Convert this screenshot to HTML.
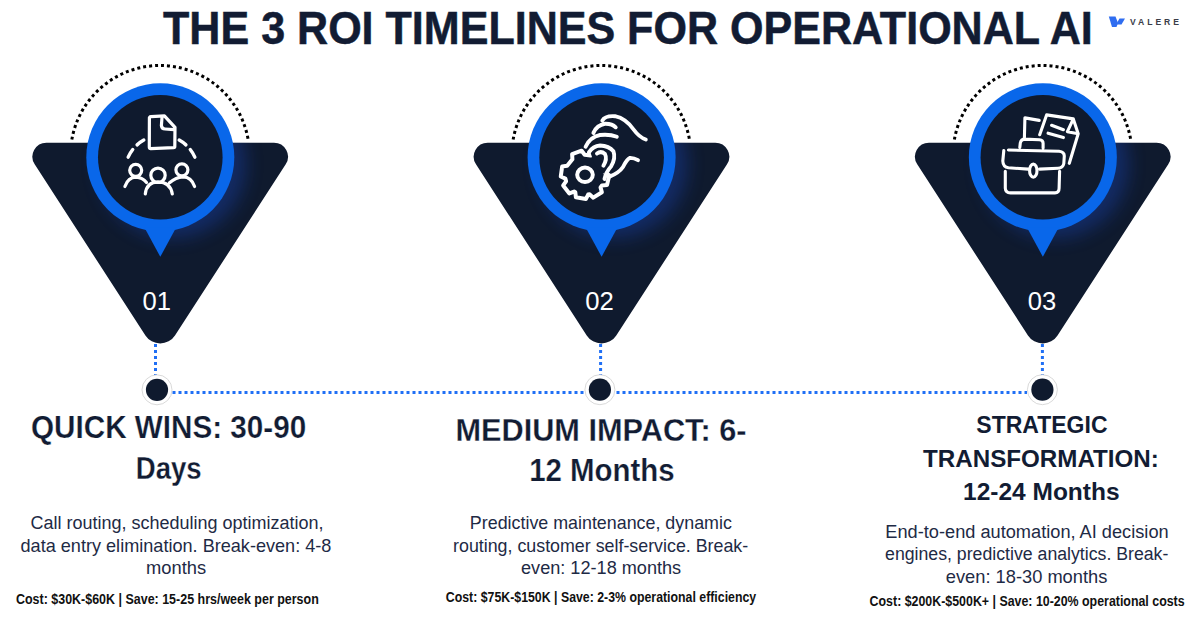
<!DOCTYPE html>
<html><head><meta charset="utf-8"><style>html,body{margin:0;padding:0;background:#fff;width:1200px;height:628px;overflow:hidden}svg{display:block}text{font-family:"Liberation Sans",sans-serif}</style></head>
<body><svg width="1200" height="628" viewBox="0 0 1200 628" font-family="Liberation Sans, sans-serif">
<defs><filter id="bl" x="-50%" y="-50%" width="200%" height="200%"><feGaussianBlur stdDeviation="9"/></filter></defs>
<rect width="1200" height="628" fill="#fff"/>
<path d="M71.83,139.6 A89.5,89.5 0 0 1 248.17,139.6" fill="none" stroke="#000" stroke-width="3" stroke-dasharray="3 3"/>
<path d="M46.43,142.70 L273.97,142.70 A14,14 0 0 1 285.72,164.31 L174.98,335.46 A17.6,17.6 0 0 1 145.42,335.46 L34.68,164.31 A14,14 0 0 1 46.43,142.70 Z" fill="#0f1a2e"/>
<clipPath id="tc0"><path d="M46.43,142.70 L273.97,142.70 A14,14 0 0 1 285.72,164.31 L174.98,335.46 A17.6,17.6 0 0 1 145.42,335.46 L34.68,164.31 A14,14 0 0 1 46.43,142.70 Z"/></clipPath>
<g clip-path="url(#tc0)"><circle cx="172.29999999999998" cy="164.3" r="74" fill="#1e50d8" opacity="0.32" filter="url(#bl)"/></g>
<circle cx="160.29999999999998" cy="157.3" r="74" fill="#0967ea"/><path d="M144.29999999999998,227.3 L160.29999999999998,256.8 L176.29999999999998,227.3 Z" fill="#0967ea"/>
<circle cx="160.29999999999998" cy="157.3" r="62.3" fill="#0f1a2e"/><path d="M513.13,139.6 A89.5,89.5 0 0 1 689.47,139.6" fill="none" stroke="#000" stroke-width="3" stroke-dasharray="3 3"/>
<path d="M487.73,142.70 L715.27,142.70 A14,14 0 0 1 727.02,164.31 L616.28,335.46 A17.6,17.6 0 0 1 586.72,335.46 L475.98,164.31 A14,14 0 0 1 487.73,142.70 Z" fill="#0f1a2e"/>
<clipPath id="tc1"><path d="M487.73,142.70 L715.27,142.70 A14,14 0 0 1 727.02,164.31 L616.28,335.46 A17.6,17.6 0 0 1 586.72,335.46 L475.98,164.31 A14,14 0 0 1 487.73,142.70 Z"/></clipPath>
<g clip-path="url(#tc1)"><circle cx="613.6" cy="164.3" r="74" fill="#1e50d8" opacity="0.32" filter="url(#bl)"/></g>
<circle cx="601.6" cy="157.3" r="74" fill="#0967ea"/><path d="M585.6,227.3 L601.6,256.8 L617.6,227.3 Z" fill="#0967ea"/>
<circle cx="601.6" cy="157.3" r="62.3" fill="#0f1a2e"/><path d="M954.38,139.6 A89.5,89.5 0 0 1 1130.72,139.6" fill="none" stroke="#000" stroke-width="3" stroke-dasharray="3 3"/>
<path d="M928.98,142.70 L1156.52,142.70 A14,14 0 0 1 1168.27,164.31 L1057.53,335.46 A17.6,17.6 0 0 1 1027.97,335.46 L917.23,164.31 A14,14 0 0 1 928.98,142.70 Z" fill="#0f1a2e"/>
<clipPath id="tc2"><path d="M928.98,142.70 L1156.52,142.70 A14,14 0 0 1 1168.27,164.31 L1057.53,335.46 A17.6,17.6 0 0 1 1027.97,335.46 L917.23,164.31 A14,14 0 0 1 928.98,142.70 Z"/></clipPath>
<g clip-path="url(#tc2)"><circle cx="1054.85" cy="164.3" r="74" fill="#1e50d8" opacity="0.32" filter="url(#bl)"/></g>
<circle cx="1042.85" cy="157.3" r="74" fill="#0967ea"/><path d="M1026.85,227.3 L1042.85,256.8 L1058.85,227.3 Z" fill="#0967ea"/>
<circle cx="1042.85" cy="157.3" r="62.3" fill="#0f1a2e"/>
<path d="M149.4,118.5 Q149,116.8 151,116.7 L164.4,115.8 L175,127.3 L174.8,146.5 Q174.8,147.6 173.5,147.7 L150.8,148.7 Q149.3,148.8 149.3,147.3 Z M162,117.5 L161.4,125.5 Q161.8,129 165,129 L174,129.6" fill="none" stroke="#fff" stroke-linecap="round" stroke-linejoin="round" stroke-width="3.2"/>
<path d="M128.16,157.15 A36.5,36.5 0 0 1 132.74,149.53 M137.08,144.88 A36.5,36.5 0 0 1 143.80,140.08 M179.20,140.08 A36.5,36.5 0 0 1 185.92,144.88 M190.26,149.53 A36.5,36.5 0 0 1 194.84,157.15" fill="none" stroke="#fff" stroke-linecap="round" stroke-linejoin="round" stroke-width="3.4"/>
<path d="M129.7,170.3 a6,6 0 1 0 12,0 a6,6 0 1 0 -12,0 M175.9,169.8 a6,6 0 1 0 12,0 a6,6 0 1 0 -12,0 M150.8,175.3 a7.2,7.2 0 1 0 14.4,0 a7.2,7.2 0 1 0 -14.4,0 M145.3,194 Q146.5,182 158,181.8 Q170.5,182 172.3,194 M124.9,186.5 Q128,177.5 136,177.2 Q142.5,177.5 146.5,182.5 M194.6,186.5 Q191.5,177 183,176.8 Q176,177.2 169.5,182.8" fill="none" stroke="#fff" stroke-linecap="round" stroke-linejoin="round" stroke-width="3.2"/>
<path d="M604.89,172.71 L609.30,175.22 L607.02,185.07 L601.96,185.40 L600.54,187.39 L601.88,192.28 L593.31,197.63 L589.50,194.29 L588.13,194.55 L585.85,199.09 L575.90,197.33 L575.30,192.29 L574.11,191.57 L569.38,193.41 L563.16,185.45 L566.09,181.31 L565.37,178.62 L560.76,176.50 L562.17,166.49 L567.18,165.72 L572.41,159.26 L572.12,154.19 L581.62,150.74 L584.65,154.80 L590.51,155.57 L594.49,152.43 L602.77,158.23 L601.18,163.04 Z" fill="none" stroke="#fff" stroke-linecap="round" stroke-linejoin="round" stroke-width="4"/>
<ellipse cx="585" cy="174.8" rx="7.8" ry="7.2" fill="none" stroke="#fff" stroke-linecap="round" stroke-linejoin="round" stroke-width="4"/>
<path d="M590,151 Q597,143 606,145 Q615,150 614.5,159 Q611,168 605,174 Q598,172 594,163 Z" fill="#0f1a2e"/>
<path d="M602.3,120.6 Q605,115.5 615,116.2 Q626,118.5 634,130 Q639,137 645.8,139.5 M593.4,132.9 Q597,125 605,123.8 Q612,123.6 615.7,127.3 M585.6,146.8 Q590,137 600,135 Q610,134 616.8,136.8 M588.9,152.4 Q593,146 600,145.5 Q609,146 613.4,151.2 Q616,158 611,166.5 Q606,172 604.5,179 M597,153.5 Q601,150.5 605,154 Q607.5,159 603.4,165.7 M609,176.9 Q619,173 623,167 Q627,159 630,157.9 Q634,157.8 638,160.2" fill="none" stroke="#fff" stroke-linecap="round" stroke-linejoin="round" stroke-width="3.9"/>
<path d="M1024.4,137.6 L1024.9,117.9 L1039.2,120.4 M1039.7,134.7 L1046.6,114.9 L1073.3,118.9 L1078.2,133.7 L1069.3,163.3 M1073.3,118.9 L1067.4,131.7 L1078.2,133.7 M1051.6,125.3 L1063.4,129.7 M1048.1,133.2 L1063.4,137.6 M1008.4,150 L1059,151.3 Q1064.3,151.8 1064.3,156 L1063.8,163.5 Q1063,168 1058,168.3 L1039.5,169.1 M1028.1,169.1 L1008.5,167.8 Q1003,167 1002.8,161 L1003.8,150.5 M1005.3,171.2 L1005.3,188.3 Q1005.5,192.9 1010.5,192.9 L1055,192.9 Q1059.1,192.9 1059.1,188.3 L1059.6,171.2 M1019.8,147.4 L1020.3,143 Q1021,139.1 1025,139.1 L1039.5,139.7 Q1043.1,140 1043.1,143.3 L1043.1,148" fill="none" stroke="#fff" stroke-linecap="round" stroke-linejoin="round" stroke-width="3.1"/>
<ellipse cx="1033.3" cy="170.7" rx="3.7" ry="6.6" fill="#0f1a2e" stroke="#fff" stroke-width="3.1"/>
<line x1="155.5" y1="344" x2="155.5" y2="375" stroke="#1f6ff5" stroke-width="3" stroke-dasharray="3 3"/>
<line x1="600.6" y1="344" x2="600.6" y2="375" stroke="#1f6ff5" stroke-width="3" stroke-dasharray="3 3"/>
<line x1="1042.4" y1="344" x2="1042.4" y2="375" stroke="#1f6ff5" stroke-width="3" stroke-dasharray="3 3"/>
<line x1="172.5" y1="392.5" x2="1027" y2="392.5" stroke="#1f6ff5" stroke-width="3" stroke-dasharray="3 3"/>
<circle cx="157" cy="389.8" r="15" fill="#fff" stroke="#cfcfcf" stroke-width="0.8"/>
<circle cx="157" cy="389.8" r="11.1" fill="#0f1a2e"/>
<circle cx="599.9" cy="389.7" r="15" fill="#fff" stroke="#cfcfcf" stroke-width="0.8"/>
<circle cx="599.9" cy="389.7" r="11.1" fill="#0f1a2e"/>
<circle cx="1042.4" cy="389.7" r="15" fill="#fff" stroke="#cfcfcf" stroke-width="0.8"/>
<circle cx="1042.4" cy="389.7" r="11.1" fill="#0f1a2e"/>
<path d="M1108.8,16.5 L1115.5,16.5 L1118,23 L1116.5,27 L1112,27 Z" fill="#2f6df0"/><path d="M1117.5,22 L1119.5,18.5 L1125,18.5 L1121.5,24.5 L1116.8,24.5 Z" fill="#2f6df0"/><text x="1130" y="25" font-size="8.6" font-weight="700" fill="#3a3d48" letter-spacing="2.95">VALERE</text>
<text transform="translate(163.06,43.60) scale(0.9361,1)" x="0" y="0" font-size="46" font-weight="700" fill="#121c33" stroke="#121c33" stroke-width="0.5">THE 3 ROI TIMELINES FOR OPERATIONAL AI</text>
<text transform="translate(31.06,437.50) scale(0.9414,1)" x="0" y="0" font-size="31.5" font-weight="700" fill="#121c33" stroke="#fff" stroke-width="0.25">QUICK WINS: 30-90</text>
<text transform="translate(135.75,478.75) scale(0.8750,1)" x="0" y="0" font-size="31.5" font-weight="700" fill="#121c33" stroke="#fff" stroke-width="0.25">Days</text>
<text transform="translate(455.45,441.10) scale(0.9750,1)" x="0" y="0" font-size="31.5" font-weight="700" fill="#121c33" stroke="#fff" stroke-width="0.25">MEDIUM IMPACT: 6-</text>
<text transform="translate(529.13,481.20) scale(0.9346,1)" x="0" y="0" font-size="31.5" font-weight="700" fill="#121c33" stroke="#fff" stroke-width="0.25">12 Months</text>
<text transform="translate(976.36,432.60) scale(0.9391,1)" x="0" y="0" font-size="24.5" font-weight="700" fill="#121c33">STRATEGIC</text>
<text transform="translate(923.00,466.50) scale(0.9873,1)" x="0" y="0" font-size="24.5" font-weight="700" fill="#121c33">TRANSFORMATION:</text>
<text transform="translate(963.00,499.80) scale(1.0000,1)" x="0" y="0" font-size="24.5" font-weight="700" fill="#121c33">12-24 Months</text>
<text transform="translate(30.52,529.20) scale(0.9781,1)" x="0" y="0" font-size="18.4" font-weight="400" fill="#1e2a45">Call routing, scheduling optimization,</text>
<text transform="translate(20.52,551.75) scale(0.9838,1)" x="0" y="0" font-size="18.4" font-weight="400" fill="#1e2a45">data entry elimination. Break-even: 4-8</text>
<text transform="translate(146.00,573.75) scale(0.9966,1)" x="0" y="0" font-size="18.4" font-weight="400" fill="#1e2a45">months</text>
<text transform="translate(16.00,604.00) scale(0.9042,1)" x="0" y="0" font-size="13.8" font-weight="700" fill="#111111">Cost: $30K-$60K | Save: 15-25 hrs/week per person</text>
<text transform="translate(469.86,528.70) scale(0.9708,1)" x="0" y="0" font-size="18.4" font-weight="400" fill="#1e2a45">Predictive maintenance, dynamic</text>
<text transform="translate(453.03,552.00) scale(0.9690,1)" x="0" y="0" font-size="18.4" font-weight="400" fill="#1e2a45">routing, customer self-service. Break-</text>
<text transform="translate(521.01,573.80) scale(0.9857,1)" x="0" y="0" font-size="18.4" font-weight="400" fill="#1e2a45">even: 12-18 months</text>
<text transform="translate(445.81,602.30) scale(0.8939,1)" x="0" y="0" font-size="13.8" font-weight="700" fill="#111111">Cost: $75K-$150K | Save: 2-3% operational efficiency</text>
<text transform="translate(885.32,537.60) scale(0.9898,1)" x="0" y="0" font-size="18.4" font-weight="400" fill="#1e2a45">End-to-end automation, AI decision</text>
<text transform="translate(885.04,560.40) scale(0.9625,1)" x="0" y="0" font-size="18.4" font-weight="400" fill="#1e2a45">engines, predictive analytics. Break-</text>
<text transform="translate(945.81,582.80) scale(0.9938,1)" x="0" y="0" font-size="18.4" font-weight="400" fill="#1e2a45">even: 18-30 months</text>
<text transform="translate(869.60,605.90) scale(0.8980,1)" x="0" y="0" font-size="13.8" font-weight="700" fill="#111111">Cost: $200K-$500K+ | Save: 10-20% operational costs</text>
<text transform="translate(142.58,310.00) scale(1.0154,1)" x="0" y="0" font-size="25.2" font-weight="400" fill="#ffffff">01</text>
<text transform="translate(585.18,309.90) scale(1.0192,1)" x="0" y="0" font-size="25.2" font-weight="400" fill="#ffffff">02</text>
<text transform="translate(1027.78,309.90) scale(1.0154,1)" x="0" y="0" font-size="25.2" font-weight="400" fill="#ffffff">03</text>
</svg></body></html>
